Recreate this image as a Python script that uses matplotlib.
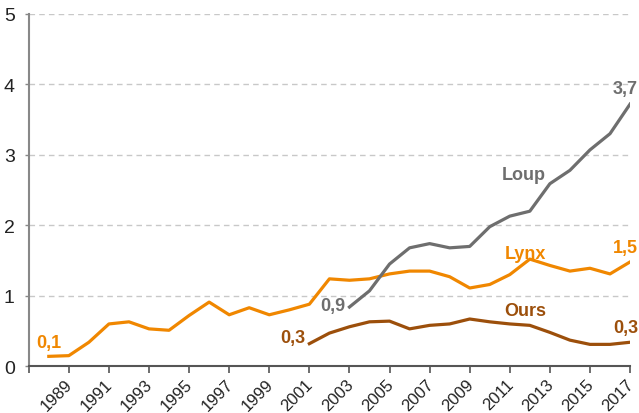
import matplotlib
matplotlib.use('Agg')
from matplotlib import pyplot as plt
from matplotlib import transforms
import numpy as np

plt.rcParams['font.family'] = ['Liberation Sans', 'DejaVu Sans']

# valeurs
lynx_years = np.arange(1988, 2018)
lynx = [0.14, 0.15, 0.34, 0.60, 0.63, 0.53, 0.51, 0.72, 0.91, 0.73,
        0.83, 0.73, 0.80, 0.88, 1.24, 1.22, 1.24, 1.31, 1.35, 1.35,
        1.27, 1.11, 1.16, 1.30, 1.52, 1.43, 1.35, 1.39, 1.31, 1.48]

loup_years = np.arange(2003, 2018)
loup = [0.84, 1.07, 1.45, 1.68, 1.74, 1.68, 1.70, 1.98, 2.13, 2.20,
        2.59, 2.78, 3.07, 3.30, 3.72]

ours_years = np.arange(2001, 2018)
ours = [0.32, 0.47, 0.56, 0.63, 0.64, 0.53, 0.58, 0.60, 0.67, 0.63,
        0.60, 0.58, 0.48, 0.37, 0.31, 0.31, 0.34]

C_LYNX = '#F08700'
C_LOUP = '#6E6E6E'
C_OURS = '#9C4F0B'

fig = plt.figure(figsize=(6.39, 4.14), dpi=100)
ax = fig.add_axes([0.045, 0.113, 0.941, 0.851])

ax.plot(lynx_years, lynx, color=C_LYNX, lw=2.3)
ax.plot(loup_years, loup, color=C_LOUP, lw=2.3)
ax.plot(ours_years, ours, color=C_OURS, lw=2.3)

ax.set_xlim(1987, 2017)
ax.set_ylim(0, 5)
ax.set_yticks(range(0, 6))
ax.set_yticklabels([str(v) for v in range(0, 6)], fontsize=14, color='#222222')
ax.set_xticks(range(1987, 2018, 2))
ax.set_xticklabels([''] + [str(y) for y in range(1989, 2018, 2)],
                   rotation=45, ha='right', rotation_mode='anchor',
                   fontsize=12, color='#222222')
ax.tick_params(axis='x', length=5, width=1.2, color='#555555', pad=2)
ax.tick_params(axis='y', length=3, width=1, color='#888888', pad=7)

# petit decalage vers la gauche pour que 2017 reste dans l'image
shift = transforms.ScaledTranslation(-4 / 100, 0, fig.dpi_scale_trans)
for lab in ax.get_xticklabels():
    lab.set_transform(lab.get_transform() + shift)

for y in range(1, 6):
    ax.axhline(y, color='#c8c8c8', lw=1, ls=(0, (4, 3)), zorder=0)

for s in ['top', 'right']:
    ax.spines[s].set_visible(False)
ax.spines['left'].set_color('#888888')
ax.spines['left'].set_linewidth(1.5)
ax.spines['bottom'].set_color('#555555')
ax.spines['bottom'].set_linewidth(1.5)

kw = dict(fontsize=13, fontweight='bold')
ax.text(1988, 0.22, '0,1', color=C_LYNX, ha='center', va='bottom', **kw)
ax.text(2017.4, 1.57, '1,5', color=C_LYNX, ha='right', va='bottom', **kw)
ax.text(2012.8, 1.6, 'Lynx', color=C_LYNX, ha='right', va='center', **kw)
ax.text(2002.8, 0.86, '0,9', color=C_LOUP, ha='right', va='center', **kw)
ax.text(2017.4, 3.82, '3,7', color=C_LOUP, ha='right', va='bottom', **kw)
ax.text(2012.8, 2.72, 'Loup', color=C_LOUP, ha='right', va='center', **kw)
ax.text(2000.8, 0.41, '0,3', color=C_OURS, ha='right', va='center', **kw)
ax.text(2017.4, 0.43, '0,3', color=C_OURS, ha='right', va='bottom', **kw)
ax.text(2012.8, 0.79, 'Ours', color=C_OURS, ha='right', va='center', **kw)

fig.savefig('out.png', dpi=100)
